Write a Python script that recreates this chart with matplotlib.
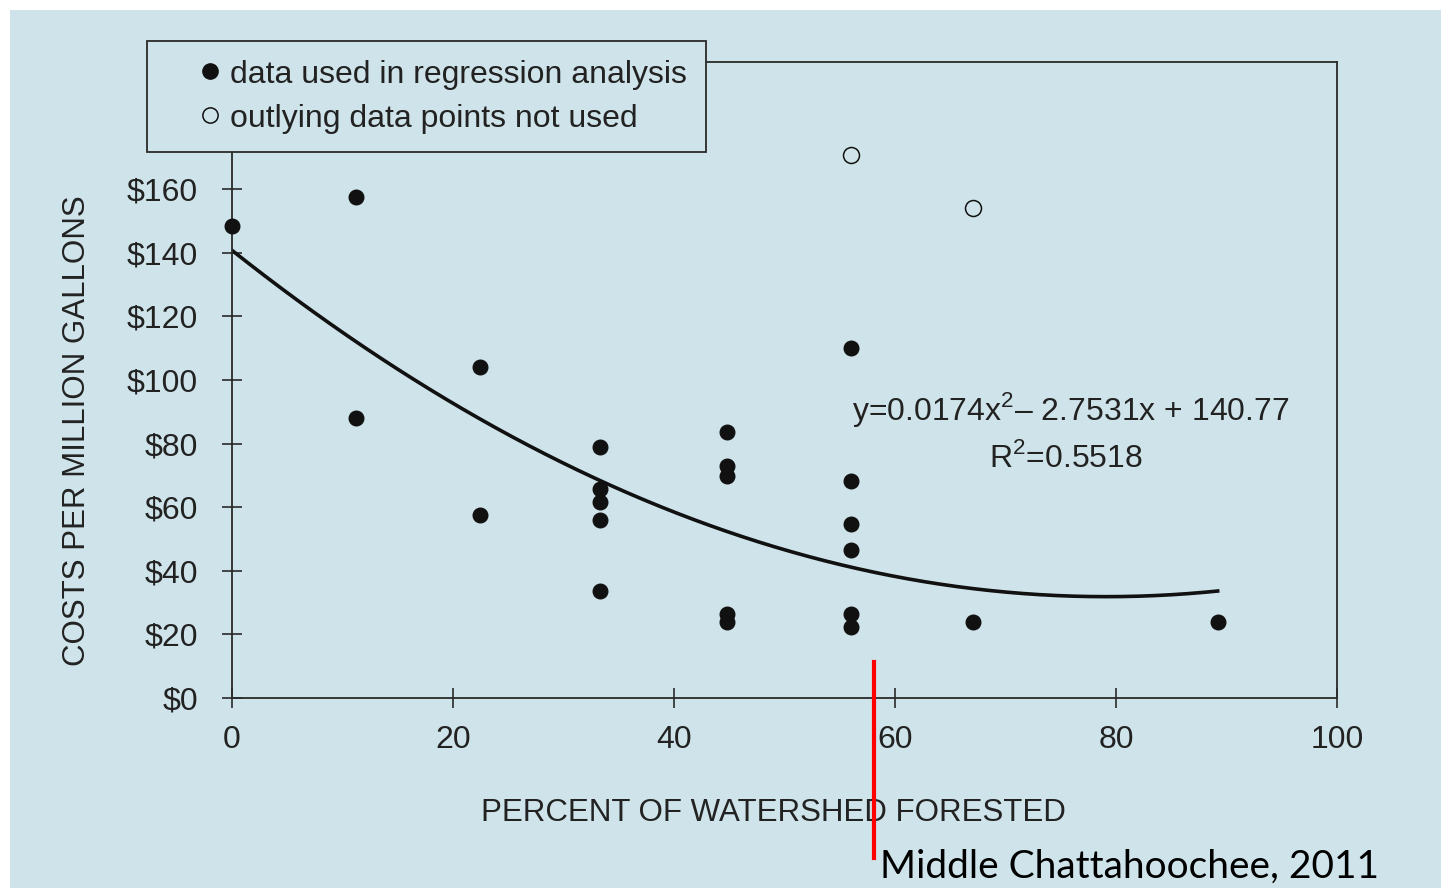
import numpy as np
import matplotlib.pyplot as plt
from matplotlib.lines import Line2D
from matplotlib.patches import Rectangle

# points used in the regression (percent forested, $ per million gallons)
used_x = [0, 11.2, 11.2, 22.4, 22.4,
          33.3, 33.3, 33.3, 33.3, 33.3,
          44.8, 44.8, 44.8, 44.8, 44.8,
          56.0, 56.0, 56.0, 56.0, 56.0, 56.0,
          67.1, 89.2]
used_y = [148.4, 157.5, 88, 104, 57.5,
          79, 65.7, 61.6, 56, 33.6,
          83.6, 73, 69.8, 26.4, 23.9,
          110, 68.2, 54.7, 46.5, 26.4, 22.3,
          23.9, 23.9]

# outliers left out of the fit
out_x = [56.0, 67.1]
out_y = [170.8, 154]

# fitted curve printed on the chart
coef = [0.0174, -2.7531, 140.77]
fit_range = [0, 89.2]

x_ticks = [0, 20, 40, 60, 80, 100]
y_ticks = [0, 20, 40, 60, 80, 100, 120, 140, 160]
y_labels = ['$' + str(v) for v in y_ticks]

bg = '#cfe4ea'
ink = '#222222'
fs = 23

plt.rcParams['font.family'] = ['Liberation Sans', 'DejaVu Sans']
plt.rcParams['mathtext.fontset'] = 'custom'
plt.rcParams['mathtext.rm'] = 'Liberation Sans'

fig = plt.figure(figsize=(14.41, 8.88), dpi=100, facecolor='white')
W, H = 1441, 888
fig.patches.append(Rectangle((10 / W, 0), 1 - 10 / W, 1 - 10 / H,
                             transform=fig.transFigure, facecolor=bg,
                             edgecolor='none', zorder=-10))

ax = fig.add_axes([232 / W, 1 - 698 / H, (1337 - 232) / W, (698 - 62) / H])
ax.patch.set_visible(False)

xs = np.linspace(fit_range[0], fit_range[1], 300)
ys = np.polyval(coef, xs)
ax.plot(xs, ys, color='#111111', lw=2.6, zorder=2)

ax.plot(used_x, used_y, 'o', color='#111111', ms=10.5, zorder=3, clip_on=False)
ax.plot(out_x, out_y, 'o', mfc='none', mec='#111111', mew=1.1, ms=11.5, zorder=3)

ax.set_xlim(0, 100)
ax.set_ylim(0, 200)
ax.set_xticks(x_ticks)
ax.set_yticks(y_ticks)
ax.set_yticklabels(y_labels)
for s in ax.spines.values():
    s.set_color('#2a2a2a')
    s.set_linewidth(1.3)
ax.tick_params(axis='both', direction='inout', length=15, width=1.2,
               colors='#2a2a2a', labelsize=fs, labelcolor=ink)
ax.tick_params(axis='y', pad=17)
ax.tick_params(axis='x', pad=12)

ax.set_xlabel('PERCENT OF WATERSHED FORESTED', fontsize=fs - 0.5, color=ink)
ax.xaxis.set_label_coords(0.49, -0.157)
ax.set_ylabel('COSTS PER MILLION GALLONS', fontsize=fs - 0.5, color=ink)
ax.yaxis.set_label_coords(-0.127, 0.421)

ax.text(75.9, 90.6, r'y=0.0174x$^{2}$– 2.7531x + 140.77', fontsize=fs,
        color=ink, ha='center', va='center')
ax.text(75.5, 75.5, r'R$^{2}$=0.5518', fontsize=fs, color=ink,
        ha='center', va='center')

handles = [Line2D([], [], marker='o', ls='none', color='#111111', ms=11),
           Line2D([], [], marker='o', ls='none', mfc='none', mec='#111111',
                  mew=1.1, ms=11)]
leg = ax.legend(handles, ['data used in regression analysis',
                          'outlying data points not used'],
                loc='upper left', bbox_to_anchor=(147 / W, 1 - 41 / H),
                bbox_transform=fig.transFigure, fontsize=fs,
                frameon=True, fancybox=False, facecolor=bg, framealpha=1,
                edgecolor='#2a2a2a', borderpad=0.58, labelspacing=0.44,
                handlelength=2.8, handletextpad=-0.77, borderaxespad=0)
leg.get_frame().set_linewidth(1.3)
for t in leg.get_texts():
    t.set_color(ink)

# red marker line and caption
fig.add_artist(Line2D([874 / W, 874 / W], [1 - 662 / H, 1 - 858 / H],
                      transform=fig.transFigure, color='red', lw=3))
fig.text(880 / W, 1 - 878 / H, 'Middle Chattahoochee, 2011', fontsize=28,
         family=['Lato', 'DejaVu Sans'], color='black', ha='left', va='baseline')

fig.savefig('out.png', dpi=100, facecolor=fig.get_facecolor())
